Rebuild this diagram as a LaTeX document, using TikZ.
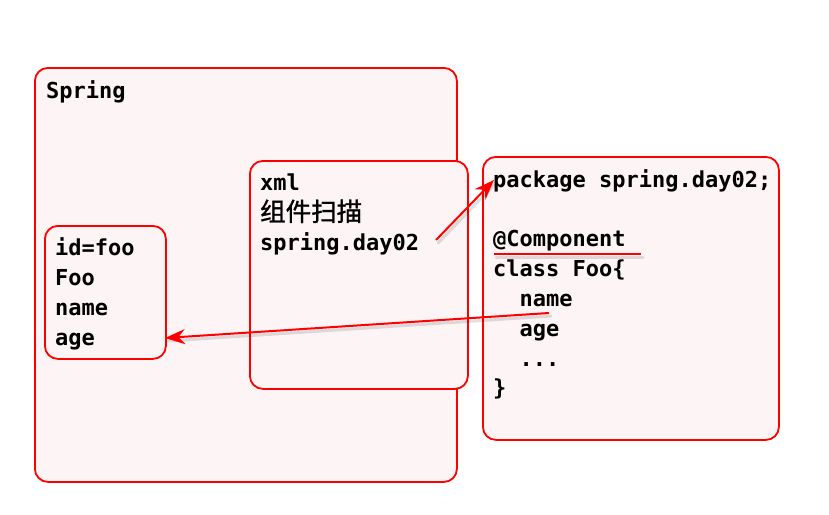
\documentclass[tikz,border=0pt]{standalone}
\usepackage{fontspec}
\setmonofont{DejaVu Sans Mono}
\newfontfamily\cjk[FakeBold=1.2]{Noto Sans CJK SC}
\usetikzlibrary{arrows.meta}
\definecolor{boxfill}{HTML}{FDF4F5}
\definecolor{boxred}{HTML}{FF0000}
\begin{document}
\begin{tikzpicture}[x=1pt,y=-1pt,
  box/.style={draw=boxred,fill=boxfill,line width=1.8pt,rounded corners=13pt,anchor=north west,inner sep=0pt},
  txt/.style={anchor=base west,inner sep=0pt,font=\ttfamily\bfseries\fontsize{22}{30}\selectfont},
  arr/.style={draw=boxred,line width=2pt,-{Stealth[length=20pt,width=15pt]}},
  shadow/.style={draw=black,opacity=0.12,line width=3pt,line cap=round},
  ]
\useasboundingbox (0,0) rectangle (829,514);
\node[box,minimum width=422pt,minimum height=414pt] (spring) at (34,67) {};
\node[box,minimum width=121pt,minimum height=133pt] (idbox) at (44,225) {};
\node[box,minimum width=218pt,minimum height=228pt] (xmlbox) at (249,160) {};
\node[box,minimum width=296pt,minimum height=283pt] (cls) at (482,156) {};

\node[txt] (tspring) at (46,98) {Spring};

\node[txt] (t1) at (55,255) {id=foo};
\node[txt] (t2) at (55,285) {Foo};
\node[txt] (t3) at (55,315) {name};
\node[txt] (t4) at (55,345) {age};

\node[txt] (x1) at (260,190) {xml};
\node[txt,font=\cjk\fontsize{25.5}{30}\selectfont] (x2) at (260,221) {组件扫描};
\node[txt] (x3) at (260,250) {spring.day02};

\node[txt] (c1) at (493,187) {package spring.day02;};
\node[txt] (c2) at (493,246) {@Component};
\node[txt] (c3) at (493,276) {class Foo\{};
\node[txt] (c4) at (493,306) {\ \ name};
\node[txt] (c5) at (493,336) {\ \ age};
\node[txt] (c6) at (493,366) {\ \ ...};
\node[txt] (c7) at (493,395) {\}};

\coordinate (a1s) at (436,240);
\coordinate (a1e) at (494,180);
\coordinate (a2s) at (549,313);
\coordinate (a2e) at (165,338);
\coordinate (us) at (494,254);
\coordinate (ue) at (641,254);

\draw[shadow] ([shift={(2,3)}]a1s) -- ([shift={(2,3)}]a1e);
\draw[shadow] ([shift={(2,3)}]a2s) -- ([shift={(2,3)}]a2e);
\draw[shadow] ([shift={(2,3)}]us) -- ([shift={(2,3)}]ue);
\draw[arr] (a1s) -- (a1e);
\draw[arr] (a2s) -- (a2e);
\draw[draw=boxred,line width=2.6pt] (us) -- (ue);
\end{tikzpicture}
\end{document}
